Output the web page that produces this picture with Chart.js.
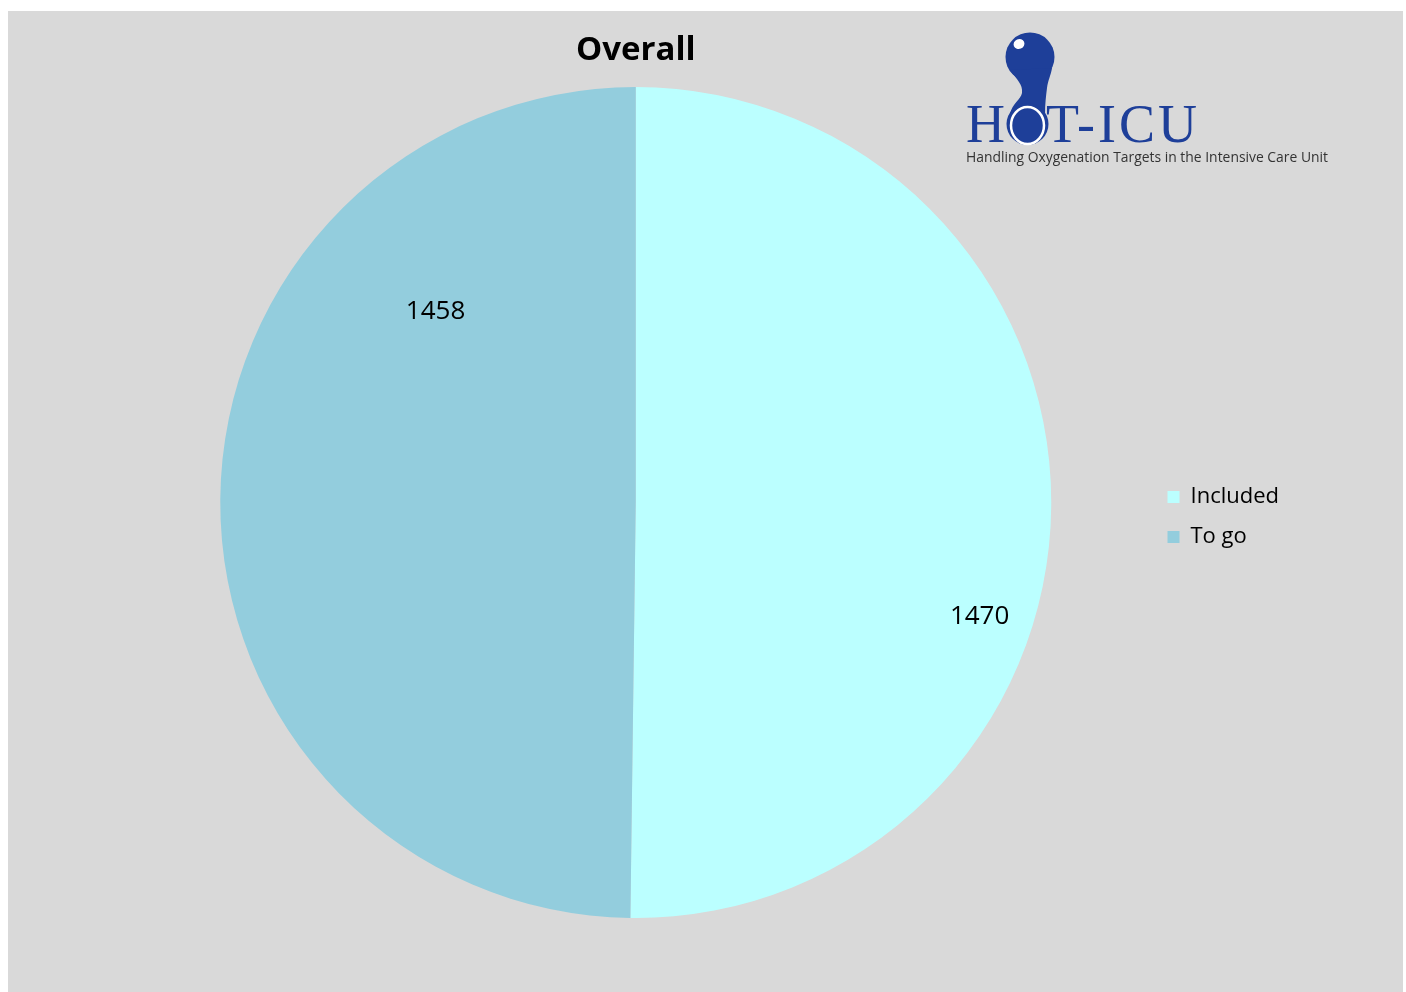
<!DOCTYPE html>
<html>
<head>
<meta charset="utf-8">
<title>Overall</title>
<script src="https://cdn.jsdelivr.net/npm/chart.js@4.4.1/dist/chart.umd.min.js"></script>
<style>
    html, body { margin: 0; padding: 0; background: #ffffff; }
    #wrap {
        position: absolute;
        left: 8px;
        top: 11px;
        width: 1395px;
        height: 981px;
        background: #d9d9d9;
    }
</style>
</head>
<body>
<div id="wrap"><canvas id="overall-chart"></canvas></div>
<script>
// Recruitment status, overall
const categories = ['Included', 'To go'];
const counts = [1470, 1458];
const sliceColors = ['#bbffff', '#93cddd'];

// Excel "best fit" label spots: degrees moved from slice middle, fraction of radius
const labelSpots = [
    { shift: 18, dist: 0.872 },
    { shift: 43.2, dist: 0.665 }
];

const FONT = '"Open Sans", "Noto Sans", sans-serif';

// Draws the value of each slice
const sliceLabels = {
    id: 'sliceLabels',
    afterDatasetsDraw(chart) {
        const ctx = chart.ctx;
        const meta = chart.getDatasetMeta(0);
        ctx.save();
        ctx.font = '26px ' + FONT;
        ctx.fillStyle = '#000000';
        ctx.textAlign = 'center';
        ctx.textBaseline = 'middle';
        meta.data.forEach((arc, i) => {
            const spot = labelSpots[i];
            const mid = (arc.startAngle + arc.endAngle) / 2 + spot.shift * Math.PI / 180;
            const r = arc.outerRadius * spot.dist;
            ctx.fillText(String(counts[i]), arc.x + Math.cos(mid) * r, arc.y + Math.sin(mid) * r);
        });
        ctx.restore();
    }
};

// HOT-ICU logo in the top right corner (page coords shifted by wrapper offset)
const logo = {
    id: 'logo',
    afterDraw(chart) {
        const ctx = chart.ctx;
        const blue = '#1e3f99';
        ctx.save();
        ctx.translate(-8, -11);

        ctx.fillStyle = blue;
        // top ball
        ctx.beginPath();
        ctx.arc(1030, 57, 24.5, 0, Math.PI * 2);
        ctx.fill();
        // neck
        ctx.beginPath();
        ctx.moveTo(1010, 70);
        ctx.bezierCurveTo(1017, 80, 1023, 84, 1022, 93);
        ctx.bezierCurveTo(1021, 99, 1012, 104, 1010, 114);
        ctx.lineTo(1045, 114);
        ctx.bezierCurveTo(1045, 104, 1046, 96, 1047, 88);
        ctx.bezierCurveTo(1048, 80, 1051, 75, 1052, 68);
        ctx.closePath();
        ctx.fill();
        // the O
        ctx.beginPath();
        ctx.arc(1027.5, 124, 21, 0, Math.PI * 2);
        ctx.fill();
        ctx.strokeStyle = '#ffffff';
        ctx.lineWidth = 2.5;
        ctx.beginPath();
        ctx.ellipse(1027.5, 125.5, 16.5, 18.5, 0, 0, Math.PI * 2);
        ctx.stroke();
        // highlight
        ctx.fillStyle = '#ffffff';
        ctx.beginPath();
        ctx.ellipse(1019, 44, 5.5, 5, -0.4, 0, Math.PI * 2);
        ctx.fill();

        // letters
        ctx.fillStyle = blue;
        ctx.textBaseline = 'alphabetic';
        ctx.textAlign = 'left';
        ctx.font = '54px "Liberation Serif", "DejaVu Serif", serif';
        ctx.fillText('H', 966, 142);
        ctx.letterSpacing = '3px';
        ctx.fillText('T-ICU', 1046, 142);
        ctx.letterSpacing = '0px';

        ctx.fillStyle = '#333333';
        ctx.font = '14.5px ' + FONT;
        ctx.fillText('Handling Oxygenation Targets in the Intensive Care Unit', 966, 162, 362);
        ctx.restore();
    }
};

new Chart(document.getElementById('overall-chart'), {
    type: 'pie',
    data: {
        labels: categories,
        datasets: [{
            data: counts,
            backgroundColor: sliceColors,
            borderWidth: 0
        }]
    },
    plugins: [sliceLabels, logo],
    options: {
        responsive: true,
        maintainAspectRatio: false,
        animation: false,
        events: [],
        layout: {
            padding: { top: 0, left: 114, right: 114, bottom: 74 }
        },
        plugins: {
            title: {
                display: true,
                text: 'Overall',
                fullSize: false,
                color: '#000000',
                font: { family: FONT, size: 33, weight: 'bold' },
                padding: { top: 20, bottom: 16.4 }
            },
            legend: {
                position: 'right',
                fullSize: false,
                align: 'center',
                title: {
                    display: true,
                    text: '',
                    font: { size: 10 },
                    padding: { top: 8.5, bottom: 8.5 }
                },
                labels: {
                    boxWidth: 12,
                    boxHeight: 12,
                    padding: 18,
                    color: '#000000',
                    font: { family: FONT, size: 22 }
                }
            },
            tooltip: { enabled: false }
        }
    }
});
</script>
</body>
</html>
